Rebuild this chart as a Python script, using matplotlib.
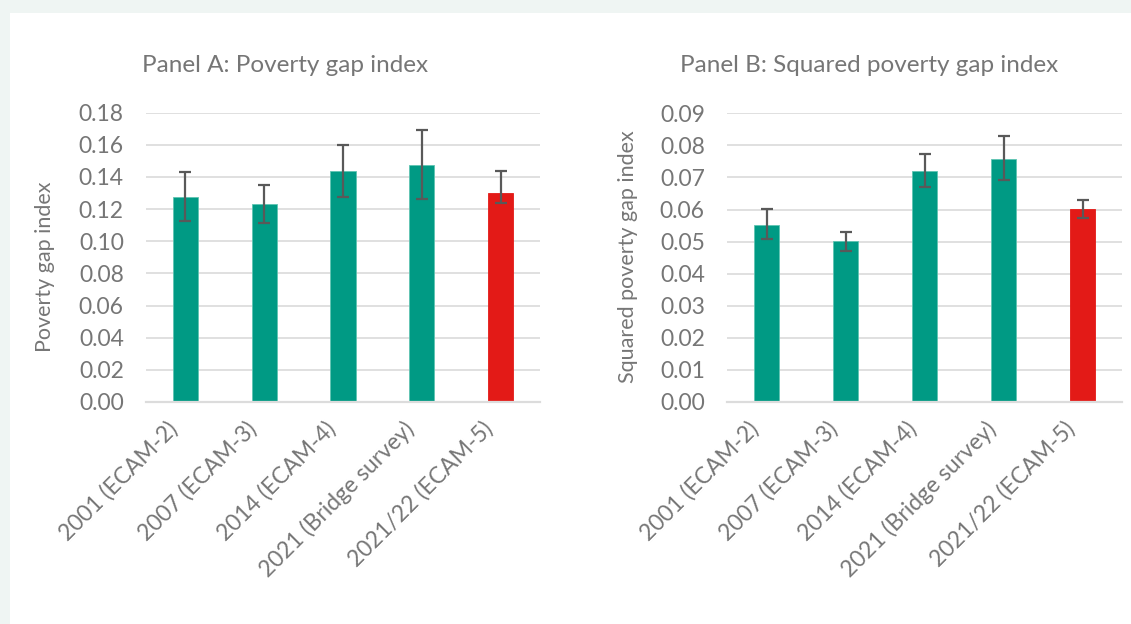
import matplotlib
matplotlib.use("Agg")
import matplotlib.pyplot as plt
import matplotlib.transforms as mtransforms
from matplotlib.patches import Rectangle

categories = ["2001 (ECAM-2)", "2007 (ECAM-3)", "2014 (ECAM-4)", "2021 (Bridge survey)", "2021/22 (ECAM-5)"]
pg_values = [0.1277, 0.1230, 0.1437, 0.1476, 0.1298]
pg_low = [0.1128, 0.1114, 0.1277, 0.1265, 0.1240]
pg_high = [0.1433, 0.1350, 0.1601, 0.1690, 0.1435]
spg_values = [0.0553, 0.0501, 0.0721, 0.0759, 0.0601]
spg_low = [0.0507, 0.0471, 0.0670, 0.0691, 0.0574]
spg_high = [0.0602, 0.0531, 0.0774, 0.0830, 0.0630]
pg_ticks = [0.00, 0.02, 0.04, 0.06, 0.08, 0.10, 0.12, 0.14, 0.16, 0.18]
spg_ticks = [0.00, 0.01, 0.02, 0.03, 0.04, 0.05, 0.06, 0.07, 0.08, 0.09]

TEAL = "#009a84"
RED = "#e31a17"
GRAY = "#767676"
plt.rcParams['font.family'] = ['Lato', 'DejaVu Sans']

W, H = 1131, 624
fig = plt.figure(figsize=(W / 100, H / 100), dpi=100)
fig.patch.set_facecolor("#eff5f3")
bg = Rectangle((10 / W, 0), 1 - 10 / W, (H - 13) / H, transform=fig.transFigure,
               facecolor="white", edgecolor="none", zorder=-10)
fig.add_artist(bg)

colors = [TEAL, TEAL, TEAL, TEAL, RED]
shift = mtransforms.ScaledTranslation(-11 / 100, -4 / 100, fig.dpi_scale_trans)

def panel(left_px, right_px, top_px, values, low, high, ticks, title, title_x, ylabel, ylabel_x, ylabel_y):
    bottom_px = 402
    ax = fig.add_axes([left_px / W, (H - bottom_px) / H, (right_px - left_px) / W, (bottom_px - top_px) / H])
    ax.set_zorder(1)
    ax.set_facecolor("none")
    x = list(range(len(categories)))
    yerr = [[v - l for v, l in zip(values, low)], [h - v for v, h in zip(values, high)]]
    ax.bar(x, values, width=0.32, color=colors, edgecolor=["#5fc4b2"] * 4 + [RED], linewidth=0.6, zorder=2)
    ax.errorbar(x, values, yerr=yerr, fmt="none", ecolor="#595959", elinewidth=1.6, capsize=4, capthick=1.6, zorder=3)
    ax.set_xlim(-0.5, len(categories) - 0.5)
    ax.set_ylim(ticks[0], ticks[-1])
    ax.set_yticks(ticks)
    ax.set_yticklabels([f"{t:.2f}" for t in ticks])
    ax.yaxis.grid(True, color="#e0e0e0", linewidth=1.4, zorder=0)
    ax.set_axisbelow(True)
    for s in ["top", "right", "left"]:
        ax.spines[s].set_visible(False)
    ax.spines["bottom"].set_color("#dcdcdc")
    ax.spines["bottom"].set_linewidth(1.6)
    ax.tick_params(axis="y", length=0, pad=16, labelsize=16.5, labelcolor=GRAY)
    ax.tick_params(axis="x", length=0, pad=14, labelsize=16.5, labelcolor=GRAY)
    ax.set_xticks(x)
    ax.set_xticklabels(categories, rotation=45, ha="right", va="center", rotation_mode="anchor")
    for lbl in ax.get_xticklabels():
        lbl.set_transform(lbl.get_transform() + shift)
    fig.text(title_x / W, (H - 65) / H, title, ha="center", va="center", fontsize=17.5, color=GRAY)
    fig.text(ylabel_x / W, (H - ylabel_y) / H, ylabel, ha="center", va="center", rotation=90, fontsize=15.5, color=GRAY)
    return ax

panel(146, 540, 112.7, pg_values, pg_low, pg_high, pg_ticks,
      "Panel A: Poverty gap index", 285, "Poverty gap index", 45, 267)
panel(727, 1122, 113.3, spg_values, spg_low, spg_high, spg_ticks,
      "Panel B: Squared poverty gap index", 869, "Squared poverty gap index", 628, 257)

fig.savefig("out.png", dpi=100, facecolor=fig.get_facecolor())
